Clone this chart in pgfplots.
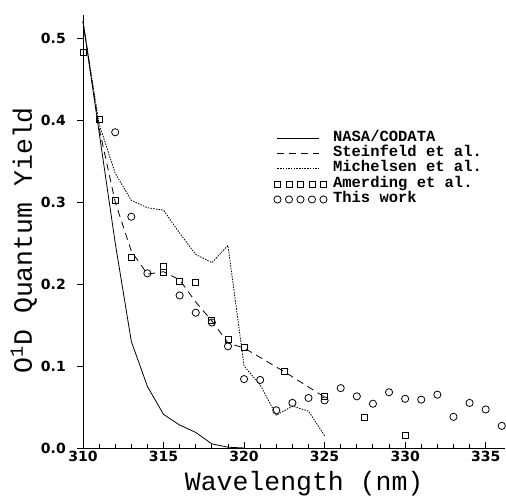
\documentclass[border=0pt]{standalone}
\usepackage{fontspec}
\usepackage{pgfplots}
\pgfplotsset{compat=1.18}
\newfontfamily\labelfont{Liberation Mono}
\newfontfamily\tickfont{DejaVu Sans}
\pgfplotsset{
  lineleg/.style={legend image code/.code={\draw[##1] (0pt,0pt) -- (42pt,0pt);}},
  markleg/.style={legend image code/.code={\draw[##1] plot[only marks] coordinates {(0pt,0pt) (11.5pt,0pt) (23pt,0pt) (34.5pt,0pt) (46pt,0pt)};}},
}
\begin{document}
\begin{tikzpicture}
\begin{axis}[
  name=ax,
  scale only axis,
  width=422pt, height=433pt,
  xmin=310, xmax=336.2, ymin=0, ymax=0.528,
  axis lines*=left,
  axis line style={line width=0.9pt},
  clip=false,
  xtick={310,315,320,325,330,335},
  minor x tick num=4,
  ytick={0,0.1,0.2,0.3,0.4,0.5},
  tick align=inside,
  major tick length=6pt, minor tick length=4.5pt,
  tick style={line width=0.9pt, black},
  y tick style={xshift=-6pt},
  /pgf/number format/assume math mode=true,
  ticklabel style={font=\fontsize{14}{16}\selectfont\tickfont\bfseries},
  yticklabel style={/pgf/number format/fixed, /pgf/number format/fixed zerofill, /pgf/number format/precision=1, inner sep=0pt, xshift=-17pt},
  xticklabel style={inner sep=0pt, yshift=-3pt},
  xlabel={Wavelength (nm)},
  ylabel={O\textsuperscript{1}D Quantum Yield},
  label style={font=\fontsize{26.5}{30}\selectfont\labelfont},
  xlabel style={at={(axis description cs:0.524,-0.097)}, anchor=base},
  ylabel style={at={(axis description cs:-0.121,0.48)}, anchor=base},
  legend cell align=left,
  legend style={at={(axis cs:321.85,0.387)}, anchor=north west, draw=none, fill=none,
    inner sep=0pt, outer sep=0pt, column sep=6pt,
    font=\fontsize{15.5}{16}\selectfont\labelfont\bfseries,
    nodes={inner sep=0pt, text height=10.5pt, text depth=4.8pt}},
]
\addplot[black, line width=0.8pt, mark=none, lineleg]
 coordinates {(310,0.52) (311,0.385) (312,0.25) (313,0.13) (314,0.075) (315,0.041)
   (316,0.028) (317,0.019) (318,0.005) (319,0.001) (320,0.0)};
\addlegendentry{NASA/CODATA}
\addplot[black, line width=0.8pt, mark=none, dash pattern=on 7pt off 5pt, lineleg]
 coordinates {(310,0.52) (311,0.39) (312,0.30) (313,0.24) (314,0.212) (315,0.215)
   (316,0.205) (317,0.178) (318,0.155) (319,0.128) (320,0.122) (322.5,0.093) (325,0.062)};
\addlegendentry{Steinfeld et al.}
\addplot[black, line width=0.8pt, mark=none, dash pattern=on 1.5pt off 1.2pt, lineleg]
 coordinates {(310,0.52) (311,0.395) (312,0.335) (313,0.302) (314,0.293) (315,0.290)
   (316,0.262) (317,0.236) (318,0.226) (319,0.247) (320,0.100) (321,0.077) (322,0.040)
   (323,0.051) (324,0.045) (325,0.015)};
\addlegendentry{Michelsen et al.}
\addplot[black, only marks, mark=square, mark size=3pt, mark options={line width=0.8pt}, markleg]
 coordinates {(310,0.482) (311,0.401) (312,0.302) (313,0.233) (315,0.222) (315,0.214)
   (316,0.203) (317,0.202) (318,0.156) (319,0.133) (320,0.123) (322.5,0.093) (325,0.063)
   (327.5,0.037) (330,0.015)};
\addlegendentry{Amerding et al.}
\addplot[black, only marks, mark=o, mark size=3.6pt, mark options={line width=0.8pt}, markleg]
 coordinates {(312,0.385) (313,0.282) (314,0.213) (316,0.186) (317,0.165) (318,0.153)
   (319,0.124) (320,0.084) (321,0.083) (322,0.046) (323,0.055) (324,0.061) (325,0.058)
   (326,0.073) (327,0.063) (328,0.054) (329,0.068) (330,0.060) (331,0.059) (332,0.065)
   (333,0.038) (334,0.055) (335,0.047) (336,0.027)};
\addlegendentry{This work}
\end{axis}
\pgfresetboundingbox
\path ([xshift=-83pt,yshift=-48pt]ax.south west) rectangle ([xshift=1pt,yshift=15pt]ax.north east);
\end{tikzpicture}
\end{document}
